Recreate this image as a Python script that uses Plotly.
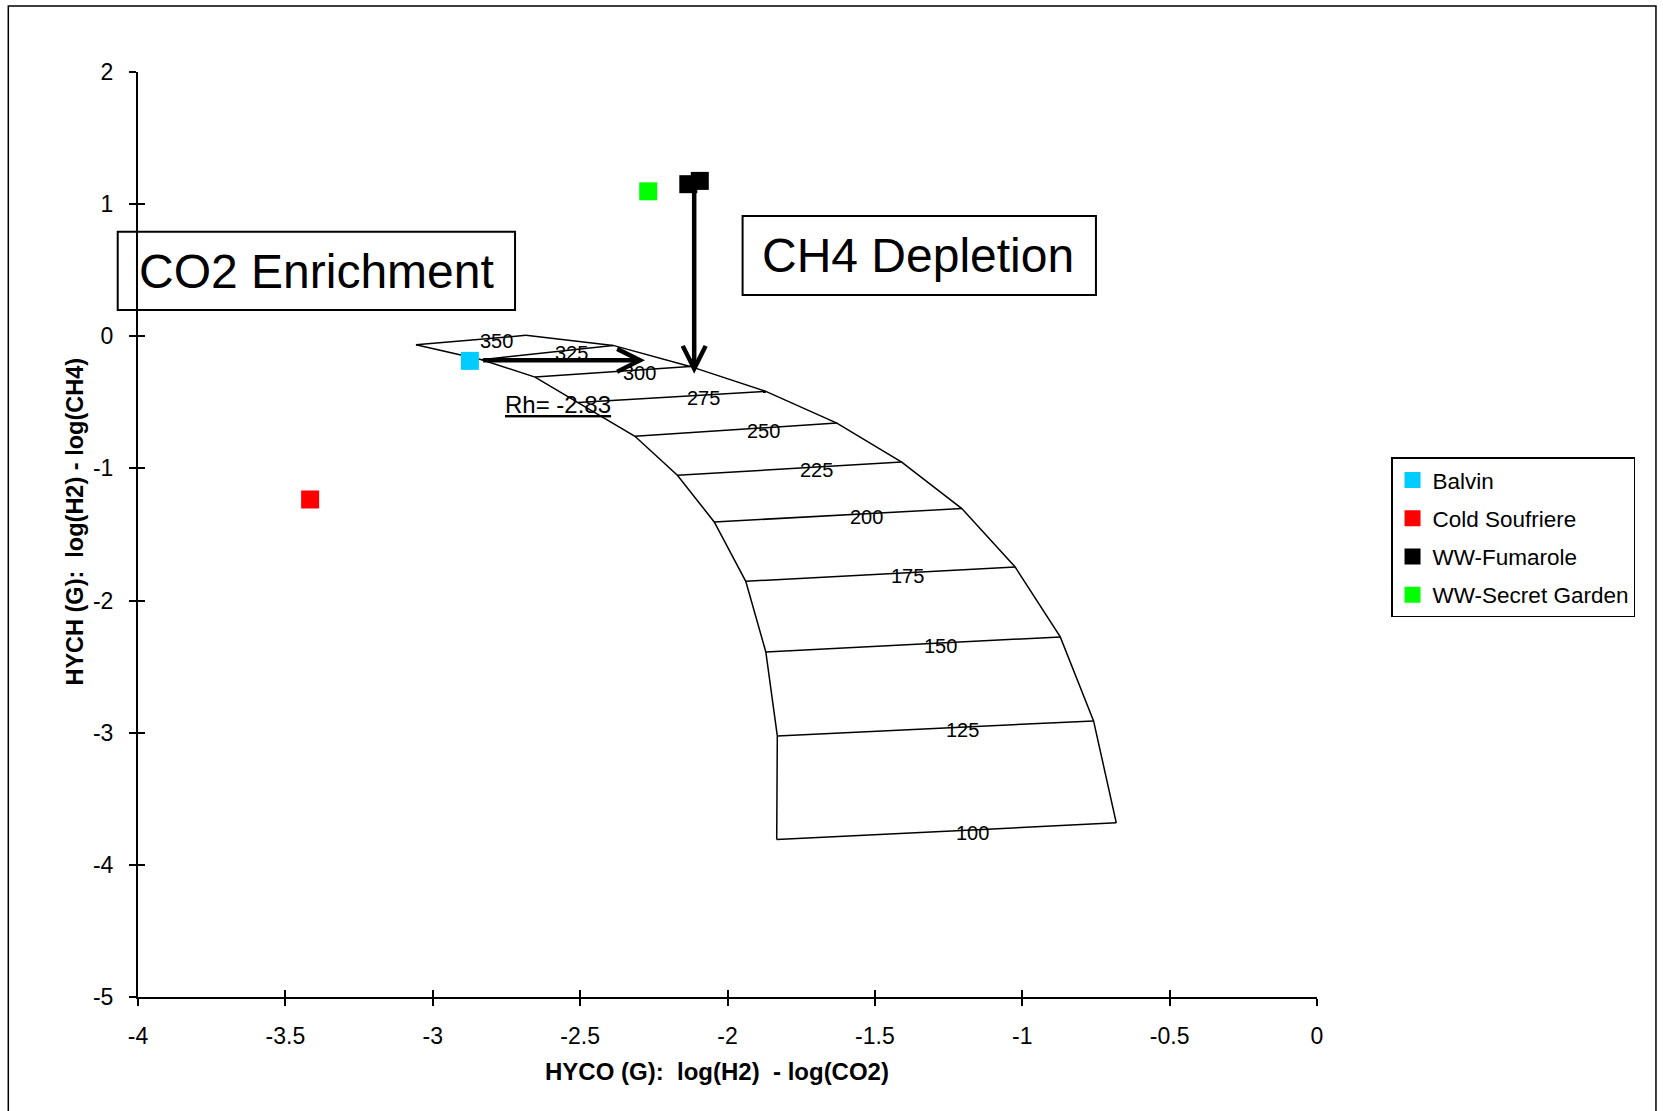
import numpy as np
import plotly.graph_objects as go

# ---------------- data ----------------
x_ticks = [-4, -3.5, -3, -2.5, -2, -1.5, -1, -0.5, 0]
x_tick_labels = ["-4", "-3.5", "-3", "-2.5", "-2", "-1.5", "-1", "-0.5", "0"]
y_ticks = [2, 1, 0, -1, -2, -3, -4, -5]
y_tick_labels = ["2", "1", "0", "-1", "-2", "-3", "-4", "-5"]

grid_temps = [350, 325, 300, 275, 250, 225, 200, 175, 150, 125, 100]
grid_left_x = [-3.057, -2.834, -2.653, -2.507, -2.314, -2.170, -2.045, -1.938, -1.870, -1.831, -1.833]
grid_left_y = [-0.064, -0.177, -0.309, -0.502, -0.757, -1.052, -1.405, -1.854, -2.389, -3.024, -3.808]
grid_right_x = [-2.684, -2.388, -2.127, -1.870, -1.629, -1.409, -1.205, -1.024, -0.871, -0.758, -0.681]
grid_right_y = [0.007, -0.069, -0.228, -0.417, -0.657, -0.952, -1.304, -1.746, -2.275, -2.911, -3.682]
grid_label_x = [-2.783, -2.529, -2.299, -2.082, -1.878, -1.697, -1.528, -1.390, -1.279, -1.202, -1.168]

balvin_x = [-2.874]
balvin_y = [-0.186]
cold_soufriere_x = [-3.416]
cold_soufriere_y = [-1.235]
ww_fumarole_x = [-2.133, -2.094]
ww_fumarole_y = [1.151, 1.176]
ww_secret_garden_x = [-2.269]
ww_secret_garden_y = [1.097]

co2_arrow_from = (-2.834, -0.182)
co2_arrow_to = (-2.28, -0.182)
ch4_arrow_from = (-2.113, 1.13)
ch4_arrow_to = (-2.113, -0.284)

rh_label = "Rh= -2.83"
rh_label_pos = (-2.575, -0.515)

FONT = "Liberation Sans, Arial, sans-serif"

fig = go.Figure()

# grid: isotherms + boundaries
gx, gy = [], []
for lx, ly, rx, ry in zip(grid_left_x, grid_left_y, grid_right_x, grid_right_y):
    gx += [lx, rx, None]
    gy += [ly, ry, None]
gx += grid_left_x + [None] + grid_right_x
gy += grid_left_y + [None] + grid_right_y
fig.add_trace(go.Scatter(x=gx, y=gy, mode="lines", line=dict(color="black", width=1.5),
                         showlegend=False, hoverinfo="skip"))

samples = [
    ("Balvin", balvin_x, balvin_y, "#00CCFF"),
    ("Cold Soufriere", cold_soufriere_x, cold_soufriere_y, "#FF0000"),
    ("WW-Fumarole", ww_fumarole_x, ww_fumarole_y, "#000000"),
    ("WW-Secret Garden", ww_secret_garden_x, ww_secret_garden_y, "#00FF00"),
]
for name, xs, ys, col in samples:
    fig.add_trace(go.Scatter(x=xs, y=ys, mode="markers", name=name, legendgroup=name,
                             marker=dict(symbol="square", size=18, color=col, line=dict(width=0))))

# overlay axes for inward half of crossing ticks
fig.add_trace(go.Scatter(x=[], y=[], xaxis="x2", yaxis="y2", showlegend=False, hoverinfo="skip"))

axis_common = dict(showgrid=False, zeroline=False, showline=True, linecolor="black", linewidth=2,
                   ticks="outside", ticklen=7, tickwidth=1.5, tickcolor="black",
                   tickfont=dict(family=FONT, size=23, color="black"))

fig.update_layout(
    width=1663, height=1111,
    margin=dict(l=138, r=346, t=72, b=114),
    paper_bgcolor="white", plot_bgcolor="white",
    font=dict(family=FONT, color="black"),
    xaxis=dict(range=[-4, 0], tickvals=x_ticks, ticktext=x_tick_labels, ticklabelstandoff=10, **axis_common),
    yaxis=dict(range=[-5, 2], tickvals=y_ticks, ticktext=y_tick_labels, ticklabelstandoff=11, **axis_common),
    xaxis2=dict(overlaying="x", anchor="y2", range=[-4, 0], tickvals=x_ticks, ticks="inside", ticklen=7,
                tickwidth=1.5, tickcolor="black", showticklabels=False, showline=False,
                showgrid=False, zeroline=False),
    yaxis2=dict(overlaying="y", anchor="x2", range=[-5, 2], tickvals=y_ticks, ticks="inside", ticklen=7,
                tickwidth=1.5, tickcolor="black", showticklabels=False, showline=False,
                showgrid=False, zeroline=False, side="left"),
    legend=dict(x=1.0628, y=0.5835, xanchor="left", yanchor="top", bgcolor="white",
                bordercolor="black", borderwidth=1.5, font=dict(family=FONT, size=22.5, color="black"),
                tracegroupgap=6, itemsizing="trace"),
)

shapes = [
    # outer chart border
    dict(type="rect", xref="paper", yref="paper", x0=-0.110, x1=1.2875, y0=-0.14, y1=1.0714,
         line=dict(color="black", width=1.5)),
    # CO2 Enrichment box
    dict(type="rect", xref="paper", yref="paper", x0=-0.0172, x1=0.3198, y0=0.7427, y1=0.8274,
         line=dict(color="black", width=2)),
    # CH4 Depletion box
    dict(type="rect", xref="paper", yref="paper", x0=0.5128, x1=0.8125, y0=0.7589, y1=0.8442,
         line=dict(color="black", width=2)),
]
fig.update_layout(shapes=shapes)

annotations = [
    dict(text="CO2 Enrichment", xref="paper", yref="paper", x=0.151, y=0.7838, showarrow=False,
         font=dict(family=FONT, size=48, color="black"), xanchor="center", yanchor="middle"),
    dict(text="CH4 Depletion", xref="paper", yref="paper", x=0.6615, y=0.8014, showarrow=False,
         font=dict(family=FONT, size=48, color="black"), xanchor="center", yanchor="middle"),
    dict(text="<u>" + rh_label + "</u>", xref="x", yref="y", x=rh_label_pos[0], y=rh_label_pos[1],
         showarrow=False, font=dict(family=FONT, size=24, color="black"), xanchor="center", yanchor="middle"),
    dict(text="<b>HYCO (G):\u00a0\u00a0log(H2)\u00a0\u00a0- log(CO2)</b>", xref="paper", yref="paper",
         x=0.4915, y=-0.0805, showarrow=False, font=dict(family=FONT, size=24, color="black"),
         xanchor="center", yanchor="middle"),
    dict(text="<b>HYCH (G):\u00a0\u00a0log(H2) - log(CH4)</b>", xref="paper", yref="paper",
         x=-0.0534, y=0.514, showarrow=False, textangle=-90, font=dict(family=FONT, size=23.5, color="black"),
         xanchor="center", yanchor="middle"),
    dict(text="", x=co2_arrow_to[0], y=co2_arrow_to[1], ax=co2_arrow_from[0], ay=co2_arrow_from[1],
         xref="x", yref="y", axref="x", ayref="y", showarrow=True, arrowhead=5, arrowsize=1,
         arrowwidth=4.5, arrowcolor="black", standoff=0, startstandoff=0),
    dict(text="", x=ch4_arrow_to[0], y=ch4_arrow_to[1], ax=ch4_arrow_from[0], ay=ch4_arrow_from[1],
         xref="x", yref="y", axref="x", ayref="y", showarrow=True, arrowhead=5, arrowsize=1,
         arrowwidth=4.5, arrowcolor="black", standoff=0, startstandoff=0),
]

# temperature labels positioned along each isotherm
for lx, ly, rx, ry, tx, t in zip(grid_left_x, grid_left_y, grid_right_x, grid_right_y, grid_label_x, grid_temps):
    ty = ly + (tx - lx) / (rx - lx) * (ry - ly)
    annotations.append(dict(text=str(t), x=tx, y=ty, xref="x", yref="y", showarrow=False,
                            font=dict(family=FONT, size=20, color="black"),
                            xanchor="center", yanchor="middle", yshift=-3))

fig.update_layout(annotations=annotations)

fig.write_html("out.html")
